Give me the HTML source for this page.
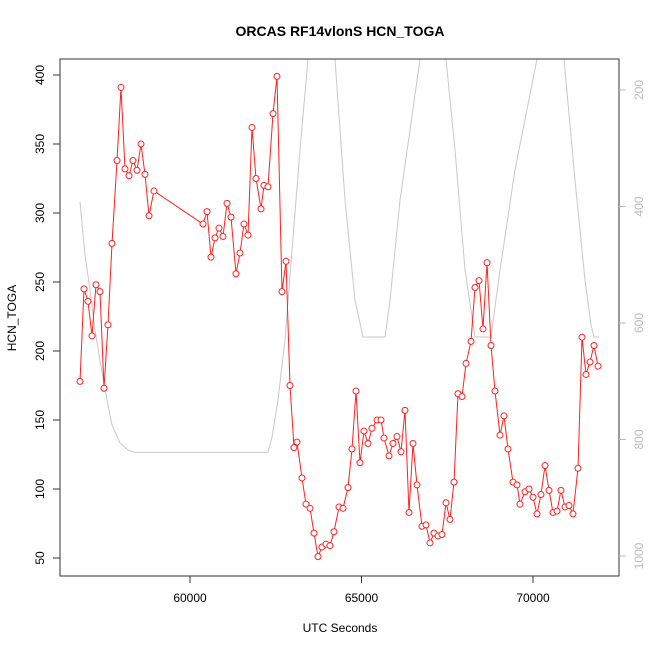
<!DOCTYPE html>
<html><head><meta charset="utf-8">
<style>
body{margin:0;background:#fff;}
svg{display:block;font-family:"Liberation Sans",Arial,sans-serif;}
</style></head>
<body>
<svg id="chart" width="650" height="650" viewBox="0 0 650 650">
<defs><clipPath id="pc"><rect x="60" y="59" width="559" height="517"/></clipPath></defs>
<rect x="0" y="0" width="650" height="650" fill="#fff"/>
<text x="340" y="36" text-anchor="middle" font-size="14" font-weight="bold">ORCAS RF14vlonS HCN_TOGA</text>
<text x="340" y="632" text-anchor="middle" font-size="12">UTC Seconds</text>
<text transform="translate(16,318) rotate(-90)" text-anchor="middle" font-size="12">HCN_TOGA</text>
<g id="gray" clip-path="url(#pc)"></g>
<g id="red"></g>
<g id="axes"></g>
</svg>
<script>
const times=[56793,56910,57026,57143,57259,57376,57493,57609,57726,57872,57988,58105,58222,58338,58455,58571,58688,58805,58950,60379,60496,60612,60729,60845,60962,61079,61195,61341,61458,61574,61691,61808,61924,62070,62157,62274,62420,62536,62682,62799,62915,63032,63119,63265,63382,63499,63615,63732,63848,63965,64082,64198,64344,64461,64606,64723,64840,64956,65073,65190,65306,65452,65569,65656,65802,65918,66035,66152,66268,66385,66501,66618,66764,66880,66997,67114,67230,67347,67464,67580,67697,67813,67930,68047,68193,68309,68426,68542,68659,68776,68892,69038,69155,69271,69417,69534,69621,69767,69884,70000,70117,70233,70350,70467,70583,70700,70816,70933,71050,71166,71312,71429,71545,71662,71778,71895];
const hcn=[178,245,236,211,248,243,173,219,278,338,391,332,327,338,331,350,328,298,316,292,301,268,282,289,283,307,297,256,271,292,284,362,325,303,320,319,372,399,243,265,175,130,134,108,89,86,68,51,58,60,59,69,87,86,101,129,171,119,142,133,144,150,150,137,124,133,138,127,157,83,133,103,73,74,61,68,66,67,90,78,105,169,167,191,207,246,251,216,264,204,171,139,153,129,105,103,89,98,100,94,82,96,117,99,83,84,99,87,88,82,115,210,183,192,204,189];
const grayTimes=[56793,56937,57085,57230,57376,57522,57726,57959,58192,58397,62274,62391,62566,62770,62974,63207,63440,63819,64227,64519,64811,65044,65685,65831,66123,66414,66706,67085,67464,67726,68018,68309,68776,69038,69475,70117,70496,70904,71225,71516,71691,71778,71924];
const grayVals=[392,483,543,612,664,715,775,806,818,822,822,796,732,629,475,303,147,-100,147,389,561,624,624,561,389,269,147,-100,147,303,509,624,624,509,337,147,-100,147,355,526,603,624,624];
const xTicks=[60000,65000,70000];
const yTicks=[50,100,150,200,250,300,350,400];
const y2Ticks=[200,400,600,800,1000];

const NS='http://www.w3.org/2000/svg';
const xs=t=>190+(t-60000)/5000*171.5;
const ys=v=>558-(v-50)*69/50;
const y2s=v=>90+(v-200)*116.5/200;
function mk(tag,attrs,parent){const e=document.createElementNS(NS,tag);for(const k in attrs)e.setAttribute(k,attrs[k]);parent.appendChild(e);return e;}

const gray=document.getElementById('gray');
const gl=mk('polyline',{points:grayTimes.map((t,i)=>xs(t)+','+y2s(grayVals[i])).join(' '),fill:'none',stroke:'#c8c8c8','stroke-width':1},gray);



const red=document.getElementById('red');
const rl=mk('polyline',{points:times.map((t,i)=>xs(t)+','+ys(hcn[i])).join(' '),fill:'none',stroke:'#ff2020','stroke-width':1},red);


times.forEach((t,i)=>{
  const c=mk('circle',{cx:xs(t),cy:ys(hcn[i]),r:3,fill:'#fff',stroke:'#ff2020','stroke-width':1},red);
  
  
});

const ax=document.getElementById('axes');
const box=mk('rect',{x:60,y:59,width:559,height:517,fill:'none',stroke:'#333','stroke-width':1},ax);


xTicks.forEach(v=>{
  mk('line',{x1:xs(v),x2:xs(v),y1:576,y2:583,stroke:'#333'},ax);
  const tx=mk('text',{x:xs(v),y:602,'text-anchor':'middle','font-size':12},ax);
  tx.textContent=v;
  
  
});
yTicks.forEach(v=>{
  mk('line',{x1:53,x2:60,y1:ys(v),y2:ys(v),stroke:'#333'},ax);
  const tx=mk('text',{transform:'translate(44,'+ys(v)+') rotate(-90)','text-anchor':'middle','font-size':12},ax);
  tx.textContent=v;
  
  
});
y2Ticks.forEach(v=>{
  mk('line',{x1:619,x2:626,y1:y2s(v),y2:y2s(v),stroke:'#bbb'},ax);
  const tx=mk('text',{transform:'translate(643,'+y2s(v)+') rotate(-90)','text-anchor':'middle','font-size':12,fill:'#bbb'},ax);
  tx.textContent=v;
  
  
});
</script>
</body></html>
